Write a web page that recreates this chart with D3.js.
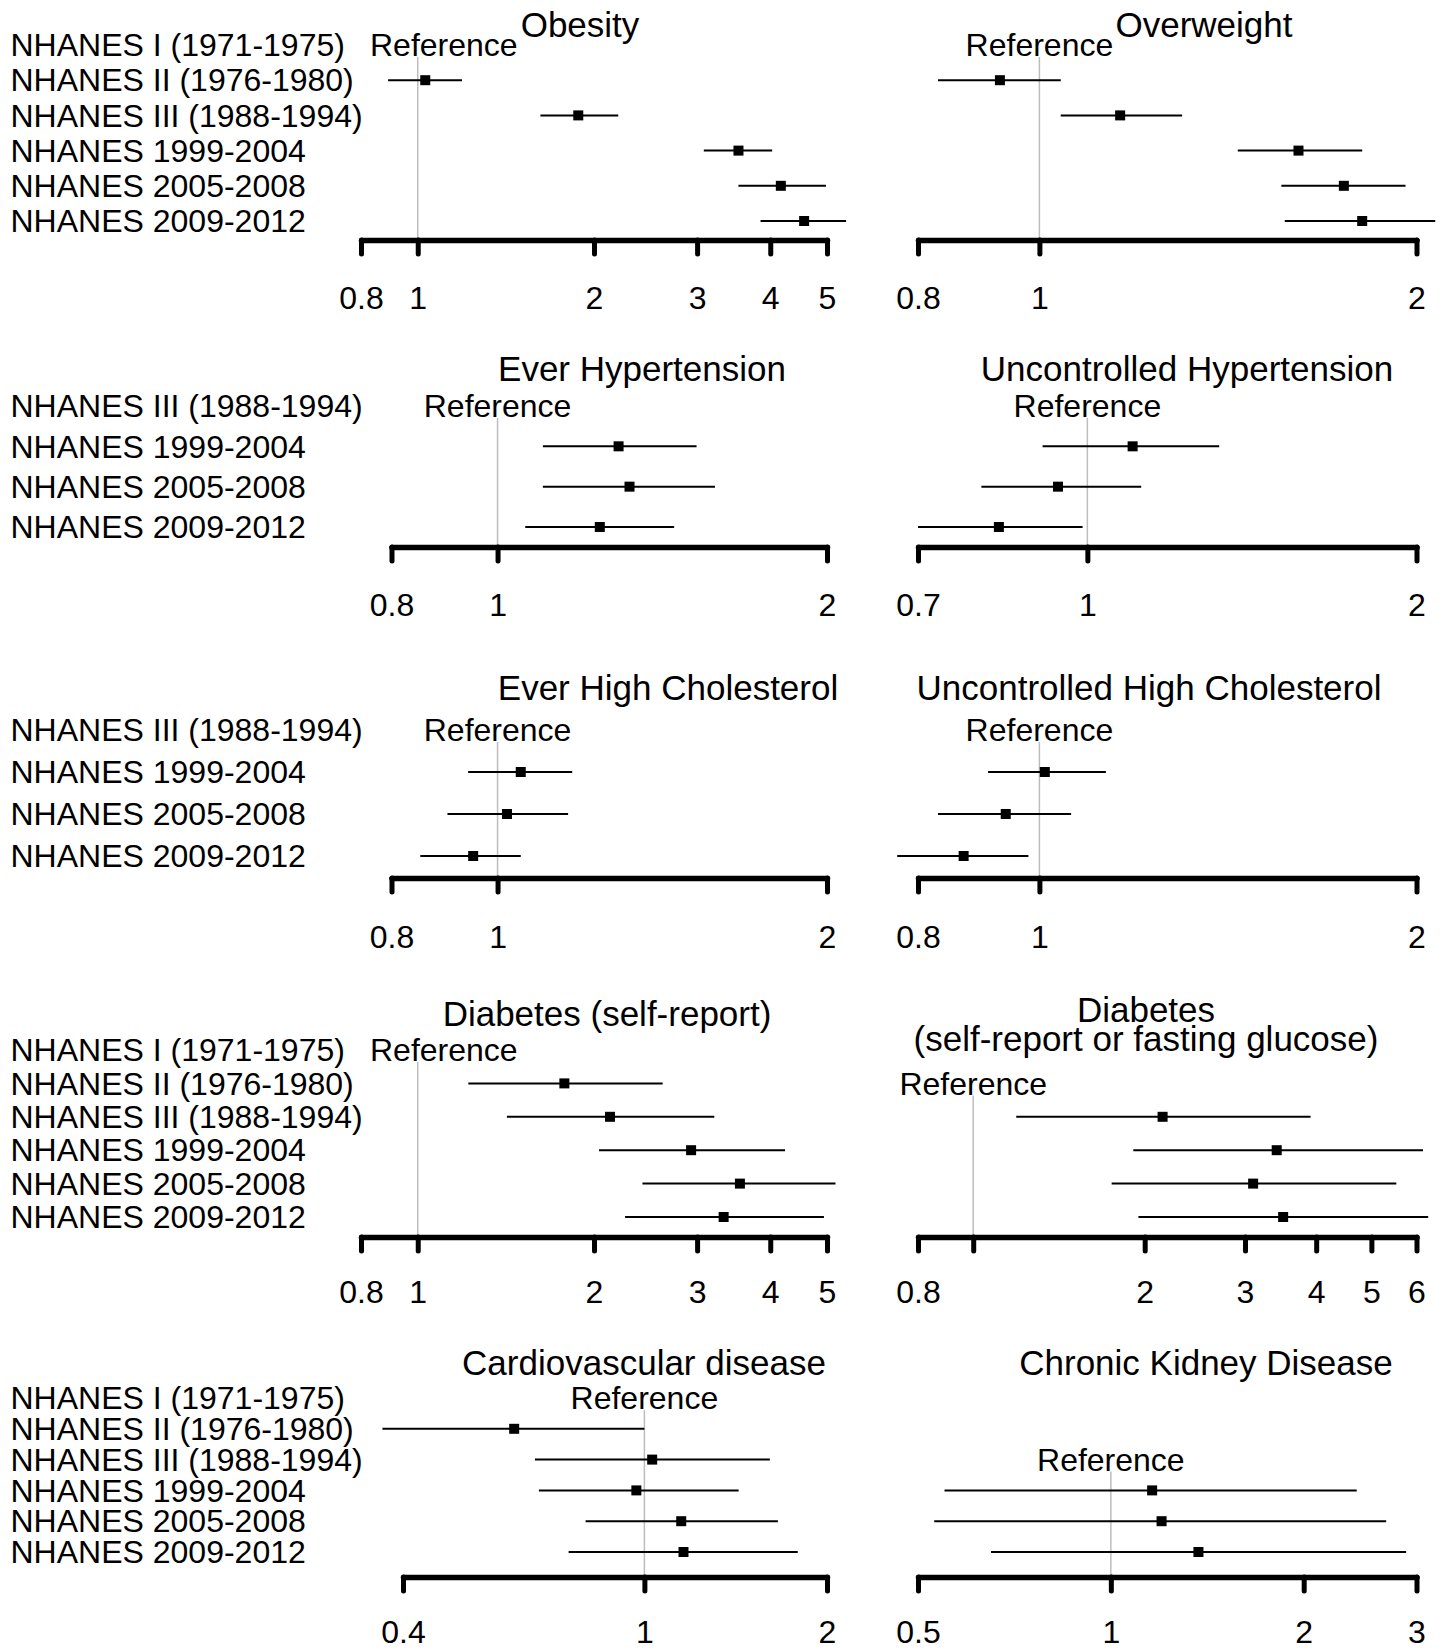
<!DOCTYPE html>
<html>
<head>
<meta charset="utf-8">
<script src="https://cdn.jsdelivr.net/npm/d3@7"></script>
<style>
  body { margin: 0; background: #fff; }
  svg text { font-family: "Liberation Sans", Arial, sans-serif; fill: #000; }
</style>
</head>
<body>
<svg id="vis" width="1446" height="1650"></svg>
<script>
// survey periods (rows)
const surveys = [
  "NHANES I (1971-1975)",
  "NHANES II (1976-1980)",
  "NHANES III (1988-1994)",
  "NHANES 1999-2004",
  "NHANES 2005-2008",
  "NHANES 2009-2012"
];

const outcomes = [
  "Obesity", "Overweight",
  "Ever Hypertension", "Uncontrolled Hypertension",
  "Ever High Cholesterol", "Uncontrolled High Cholesterol",
  "Diabetes (self-report)", "Diabetes\n(self-report or fasting glucose)",
  "Cardiovascular disease", "Chronic Kidney Disease"
];

// index of the reference survey for each outcome
const refSurvey = [0, 0, 2, 2, 2, 2, 0, 1, 0, 2];

// odds ratios for the surveys after the reference one
const estimates = [
  [1.03, 1.88, 3.53, 4.17, 4.57],
  [0.93, 1.16, 1.61, 1.75, 1.81],
  [1.29, 1.32, 1.24],
  [1.10, 0.94, 0.83],
  [1.05, 1.02, 0.95],
  [1.01, 0.94, 0.87],
  [1.78, 2.13, 2.93, 3.55, 3.33],
  [2.15, 3.41, 3.10, 3.50],
  [0.61, 1.03, 0.97, 1.15, 1.16],
  [1.16, 1.20, 1.37]
];
const lower = [
  [0.89, 1.62, 3.08, 3.53, 3.85],
  [0.83, 1.04, 1.44, 1.56, 1.57],
  [1.10, 1.10, 1.06],
  [0.91, 0.80, 0.70],
  [0.94, 0.90, 0.85],
  [0.91, 0.83, 0.77],
  [1.22, 1.42, 2.04, 2.42, 2.26],
  [1.19, 1.91, 1.75, 1.95],
  [0.37, 0.66, 0.67, 0.80, 0.75],
  [0.55, 0.53, 0.65]
];
const upper = [
  [1.19, 2.20, 4.03, 4.98, 5.39],
  [1.04, 1.30, 1.81, 1.96, 2.07],
  [1.52, 1.58, 1.45],
  [1.32, 1.12, 0.99],
  [1.17, 1.16, 1.05],
  [1.13, 1.06, 0.98],
  [2.62, 3.21, 4.24, 5.17, 4.94],
  [3.91, 6.16, 5.53, 6.29],
  [1.00, 1.61, 1.43, 1.66, 1.79],
  [2.42, 2.69, 2.89]
];

const tickVals = [
  [0.8, 1, 2, 3, 4, 5],
  [0.8, 1, 2],
  [0.8, 1, 2],
  [0.7, 1, 2],
  [0.8, 1, 2],
  [0.8, 1, 2],
  [0.8, 1, 2, 3, 4, 5],
  [0.8, 1, 2, 3, 4, 5, 6],
  [0.4, 1, 2],
  [0.5, 1, 2, 3]
];
const tickLabels = [
  ["0.8", "1", "2", "3", "4", "5"],
  ["0.8", "1", "2"],
  ["0.8", "1", "2"],
  ["0.7", "1", "2"],
  ["0.8", "1", "2"],
  ["0.8", "1", "2"],
  ["0.8", "1", "2", "3", "4", "5"],
  ["0.8", "", "2", "3", "4", "5", "6"],
  ["0.4", "1", "2"],
  ["0.5", "1", "2", "3"]
];

// ---- layout ----
const bands = [
  { first: 0, top: 45, bottom: 221, axisY: 240, labelY: 298, titleY: 25 },
  { first: 2, top: 406, bottom: 527, axisY: 547, labelY: 605, titleY: 369 },
  { first: 2, top: 730, bottom: 856, axisY: 878, labelY: 937, titleY: 688 },
  { first: 0, top: 1050, bottom: 1217, axisY: 1237, labelY: 1292, titleY: 1014 },
  { first: 0, top: 1398, bottom: 1552, axisY: 1577, labelY: 1632, titleY: 1363 }
];
const axisLeft = [361, 918, 391.5, 918, 391.5, 918, 361, 918, 403, 918];
const axisRight = [827, 1416.5, 827, 1416.5, 827, 1416.5, 827, 1416.5, 827, 1416.5];
const titleX = [580, 1204, 642, 1187, 668, 1149, 607, 1146, 644, 1206];

const svg = d3.select("svg#vis");
svg.append("rect").attr("width", 1446).attr("height", 1650).attr("fill", "#fff");

// row labels on the left
bands.forEach(function(b) {
  const rows = surveys.slice(b.first);
  const y = d3.scalePoint().domain(rows).range([b.top, b.bottom]);
  b.y = y;
  svg.append("g").selectAll("text")
    .data(rows)
    .enter()
    .append("text")
    .attr("x", 10.5)
    .attr("y", d => y(d))
    .attr("dy", "0.35em")
    .style("font-size", "32px")
    .text(d => d);
});

outcomes.forEach(function(name, i) {
  const b = bands[Math.floor(i / 2)];
  const col = i % 2;
  const domain = [tickVals[i][0], tickVals[i][tickVals[i].length - 1]];
  const x = d3.scaleLog().domain(domain).range([axisLeft[i], axisRight[i]]);
  const g = svg.append("g").attr("class", "panel");

  // title
  const lines = name.split("\n");
  const t0 = lines.length > 1 ? b.titleY - 4 : b.titleY;
  g.selectAll("text.title")
    .data(lines)
    .enter()
    .append("text")
    .attr("class", "title")
    .attr("x", titleX[i])
    .attr("y", (d, k) => t0 + k * 29)
    .attr("dy", "0.35em")
    .attr("text-anchor", "middle")
    .style("font-size", "35px")
    .text(d => d);

  // reference line + label
  const refY = b.y(surveys[refSurvey[i]]);
  g.append("line")
    .attr("x1", x(1)).attr("x2", x(1))
    .attr("y1", refY + 12).attr("y2", b.axisY)
    .attr("stroke", "#bdbdbd")
    .attr("stroke-width", 1.5);

  const ref = g.append("text")
    .attr("y", refY)
    .attr("dy", "0.35em")
    .style("font-size", "32px")
    .text("Reference");
  const w = ref.node().getComputedTextLength();
  const minLeft = col === 0 ? 370 : 0;
  ref.attr("x", Math.max(x(1) - w / 2, minLeft));

  // estimates
  const rows = surveys.slice(refSurvey[i] + 1).map(function(s, k) {
    return { survey: s, est: estimates[i][k], lo: lower[i][k], hi: upper[i][k] };
  });

  g.selectAll("line.ci")
    .data(rows)
    .enter()
    .append("line")
    .attr("class", "ci")
    .attr("x1", d => x(d.lo))
    .attr("x2", d => x(d.hi))
    .attr("y1", d => b.y(d.survey))
    .attr("y2", d => b.y(d.survey))
    .attr("stroke", "#000")
    .attr("stroke-width", 2);

  g.selectAll("rect.pt")
    .data(rows)
    .enter()
    .append("rect")
    .attr("class", "pt")
    .attr("x", d => x(d.est) - 5)
    .attr("y", d => b.y(d.survey) - 5)
    .attr("width", 10)
    .attr("height", 10)
    .attr("fill", "#000");

  // axis
  const axis = d3.axisBottom(x)
    .tickValues(tickVals[i])
    .tickFormat((d, k) => tickLabels[i][k])
    .tickSize(14)
    .tickSizeOuter(0);

  const ax = g.append("g")
    .attr("transform", "translate(0," + b.axisY + ")")
    .call(axis);
  ax.select(".domain")
    .attr("stroke-width", 5.5)
    .attr("stroke-linecap", "round");
  ax.selectAll(".tick line")
    .attr("stroke-width", 5)
    .attr("stroke-linecap", "round");
  ax.selectAll(".tick text")
    .attr("y", b.labelY - b.axisY)
    .attr("dy", "0.35em")
    .style("font-size", "32px")
    .style("font-family", "'Liberation Sans', Arial, sans-serif");
});
</script>
</body>
</html>
